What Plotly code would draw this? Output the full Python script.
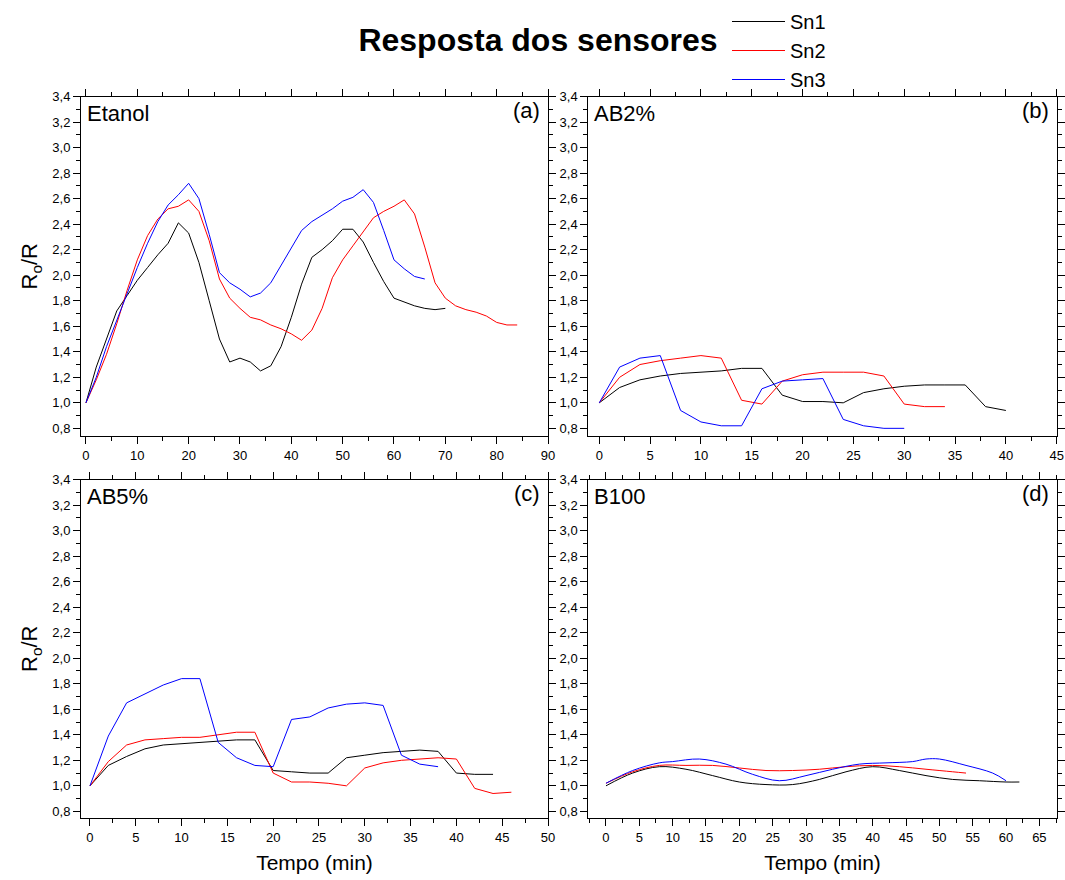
import plotly.graph_objects as go

# ---------------- data ----------------
series_names = ["Sn1", "Sn2", "Sn3"]
series_colors = ["#000000", "#ff0000", "#0000ff"]

# (a) Etanol
t_a_sn1 = list(range(0, 71, 2))
v_a_sn1 = [1.00, 1.28, 1.50, 1.72, 1.84, 1.96, 2.06, 2.16, 2.25, 2.41, 2.33, 2.10, 1.80, 1.50,
           1.32, 1.35, 1.32, 1.25, 1.29, 1.44, 1.67, 1.93, 2.14, 2.20, 2.27, 2.36, 2.36, 2.26,
           2.10, 1.95, 1.82, 1.79, 1.76, 1.74, 1.73, 1.74]
t_a_sn2 = list(range(0, 85, 2))
v_a_sn2 = [1.00, 1.18, 1.38, 1.62, 1.88, 2.12, 2.31, 2.44, 2.52, 2.54, 2.59, 2.50, 2.27, 1.97,
           1.82, 1.74, 1.67, 1.65, 1.61, 1.58, 1.54, 1.49, 1.57, 1.74, 1.98, 2.12, 2.23, 2.34,
           2.45, 2.50, 2.54, 2.59, 2.48, 2.22, 1.94, 1.82, 1.76, 1.73, 1.71, 1.68, 1.63, 1.61, 1.61]
t_a_sn3 = list(range(0, 67, 2))
v_a_sn3 = [1.00, 1.20, 1.44, 1.65, 1.86, 2.06, 2.25, 2.42, 2.55, 2.63, 2.72, 2.60, 2.32, 2.02,
           1.94, 1.89, 1.83, 1.86, 1.94, 2.08, 2.22, 2.35, 2.42, 2.47, 2.52, 2.58, 2.61, 2.67,
           2.57, 2.35, 2.12, 2.05, 1.99, 1.97]

# (b) AB2%
t_b_sn1 = list(range(0, 41, 2))
v_b_sn1 = [1.00, 1.12, 1.18, 1.21, 1.23, 1.24, 1.25, 1.27, 1.27, 1.06, 1.01, 1.01, 1.00, 1.08,
           1.11, 1.13, 1.14, 1.14, 1.14, 0.97, 0.94]
t_b_sn2 = list(range(0, 35, 2))
v_b_sn2 = [1.00, 1.20, 1.30, 1.33, 1.35, 1.37, 1.35, 1.02, 0.99, 1.17, 1.22, 1.24, 1.24, 1.24,
           1.21, 0.99, 0.97, 0.97]
t_b_sn3 = list(range(0, 31, 2))
v_b_sn3 = [1.00, 1.28, 1.35, 1.37, 0.94, 0.85, 0.82, 0.82, 1.11, 1.17, 1.18, 1.19, 0.87, 0.82,
           0.80, 0.80]

# (c) AB5%
t_c_sn1 = list(range(0, 45, 2))
v_c_sn1 = [1.00, 1.16, 1.23, 1.29, 1.32, 1.33, 1.34, 1.35, 1.36, 1.36, 1.12, 1.11, 1.10, 1.10,
           1.22, 1.24, 1.26, 1.27, 1.28, 1.27, 1.10, 1.09, 1.09]
t_c_sn2 = list(range(0, 47, 2))
v_c_sn2 = [1.00, 1.19, 1.32, 1.36, 1.37, 1.38, 1.38, 1.40, 1.42, 1.42, 1.10, 1.03, 1.03, 1.02,
           1.00, 1.14, 1.18, 1.20, 1.21, 1.22, 1.21, 0.98, 0.94, 0.95]
t_c_sn3 = list(range(0, 39, 2))
v_c_sn3 = [1.00, 1.39, 1.65, 1.72, 1.79, 1.84, 1.84, 1.34, 1.22, 1.16, 1.15, 1.52, 1.54, 1.61,
           1.64, 1.65, 1.63, 1.24, 1.17, 1.15]

# (d) B100
t_d_sn1 = [0, 4, 8, 12, 16, 20, 24, 28, 32, 36, 40, 44, 48, 52, 56, 60, 62]
v_d_sn1 = [1.00, 1.10, 1.15, 1.13, 1.08, 1.03, 1.01, 1.01, 1.05, 1.11, 1.15, 1.12, 1.08, 1.05,
           1.04, 1.03, 1.03]
t_d_sn2 = [0, 4, 8, 12, 16, 20, 24, 28, 32, 36, 40, 44, 48, 52, 54]
v_d_sn2 = [1.02, 1.11, 1.16, 1.16, 1.16, 1.14, 1.12, 1.12, 1.13, 1.15, 1.16, 1.15, 1.13, 1.11, 1.10]
t_d_sn3 = [0, 4, 8, 10, 14, 18, 22, 26, 30, 34, 38, 42, 46, 48, 50, 54, 58, 60]
v_d_sn3 = [1.02, 1.12, 1.18, 1.19, 1.21, 1.17, 1.09, 1.04, 1.08, 1.13, 1.17, 1.18, 1.19, 1.21,
           1.21, 1.16, 1.10, 1.04]

panel_names = ["Etanol", "AB2%", "AB5%", "B100"]
panel_letters = ["(a)", "(b)", "(c)", "(d)"]
panel_data = [
    [(t_a_sn1, v_a_sn1), (t_a_sn2, v_a_sn2), (t_a_sn3, v_a_sn3)],
    [(t_b_sn1, v_b_sn1), (t_b_sn2, v_b_sn2), (t_b_sn3, v_b_sn3)],
    [(t_c_sn1, v_c_sn1), (t_c_sn2, v_c_sn2), (t_c_sn3, v_c_sn3)],
    [(t_d_sn1, v_d_sn1), (t_d_sn2, v_d_sn2), (t_d_sn3, v_d_sn3)],
]
x_ranges = [[-0.97, 90], [-1.08, 45], [-0.98, 50], [-2.65, 67.6]]
x_dticks = [10, 5, 5, 5]
y_ranges = [[0.74, 3.4], [0.74, 3.4], [0.748, 3.4], [0.748, 3.4]]

title_text = "Resposta dos sensores"
x_title = "Tempo (min)"
y_title = "R<sub>o</sub>/R"

# ---------------- layout geometry (pixels) ----------------
W, H = 1065, 880
FONT = "Liberation Sans, Arial, sans-serif"
# (left, right, top, bottom) in pixels for each panel
boxes = [(81, 548, 96.5, 436), (588.3, 1056.7, 96.5, 436),
         (81, 548, 479.5, 818), (588.3, 1056.7, 479.5, 818)]

fig = go.Figure()
annotations = []
for i in range(4):
    ax = "" if i == 0 else str(i + 1)
    line_shape = "spline" if i == 3 else "linear"
    for j, (tt, vv) in enumerate(panel_data[i]):
        fig.add_trace(go.Scatter(
            x=tt, y=vv, mode="lines", name=series_names[j],
            line=dict(color=series_colors[j], width=1, shape=line_shape),
            xaxis="x" + ax, yaxis="y" + ax, showlegend=(i == 0),
        ))
    l, r, t, b = boxes[i]
    xd = [l / W, r / W]
    yd = [1 - b / H, 1 - t / H]
    common = dict(showline=True, linecolor="black", linewidth=1, mirror="ticks",
                  ticks="outside", ticklen=7, tickwidth=1, tickcolor="black",
                  showgrid=False, zeroline=False, automargin=False,
                  tickfont=dict(family=FONT, size=13, color="black"))
    fig.update_layout(**{
        "xaxis" + ax: dict(domain=xd, range=x_ranges[i], anchor="y" + ax,
                           tick0=0, dtick=x_dticks[i],
                           minor=dict(ticks="outside", ticklen=4, dtick=x_dticks[i] / 2,
                                      tickcolor="black", showgrid=False),
                           title=dict(text=x_title if i >= 2 else "",
                                      font=dict(family=FONT, size=21, color="black"),
                                      standoff=11),
                           **common),
        "yaxis" + ax: dict(domain=yd, range=y_ranges[i], anchor="x" + ax,
                           tick0=0.8, dtick=0.2, tickformat=".1f",
                           minor=dict(ticks="outside", ticklen=4, dtick=0.1,
                                      tickcolor="black", showgrid=False),
                           title=dict(text=y_title if i in (0, 2) else "",
                                      font=dict(family=FONT, size=22, color="black"),
                                      standoff=8),
                           **common),
    })
    pw, ph = r - l, b - t
    annotations.append(dict(text=panel_names[i], xref="x" + ax + " domain", yref="y" + ax + " domain",
                            x=4 / pw, y=1 - 17 / ph, xanchor="left", yanchor="middle",
                            showarrow=False, font=dict(family=FONT, size=22, color="black")))
    annotations.append(dict(text=panel_letters[i], xref="x" + ax + " domain", yref="y" + ax + " domain",
                            x=1 - 6 / pw, y=1 - 14 / ph, xanchor="right", yanchor="middle",
                            showarrow=False, font=dict(family=FONT, size=22, color="black")))

fig.update_layout(
    width=W, height=H,
    margin=dict(l=0, r=0, t=0, b=0),
    paper_bgcolor="white", plot_bgcolor="white",
    separators=",.",
    font=dict(family=FONT, color="black"),
    title=dict(text="<b>" + title_text + "</b>", x=538 / W, y=1 - 40 / H,
               xanchor="center", yanchor="middle",
               font=dict(family=FONT, size=32, color="black")),
    legend=dict(x=727 / W, y=1 - 2 / H, xanchor="left", yanchor="top",
                font=dict(family=FONT, size=20, color="black"),
                bgcolor="rgba(0,0,0,0)", itemwidth=53, tracegroupgap=0),
    annotations=annotations,
)

fig.write_html("out.html", config={"displayModeBar": False},
               post_script="document.body.style.margin='0px';document.body.style.overflow='hidden';")
